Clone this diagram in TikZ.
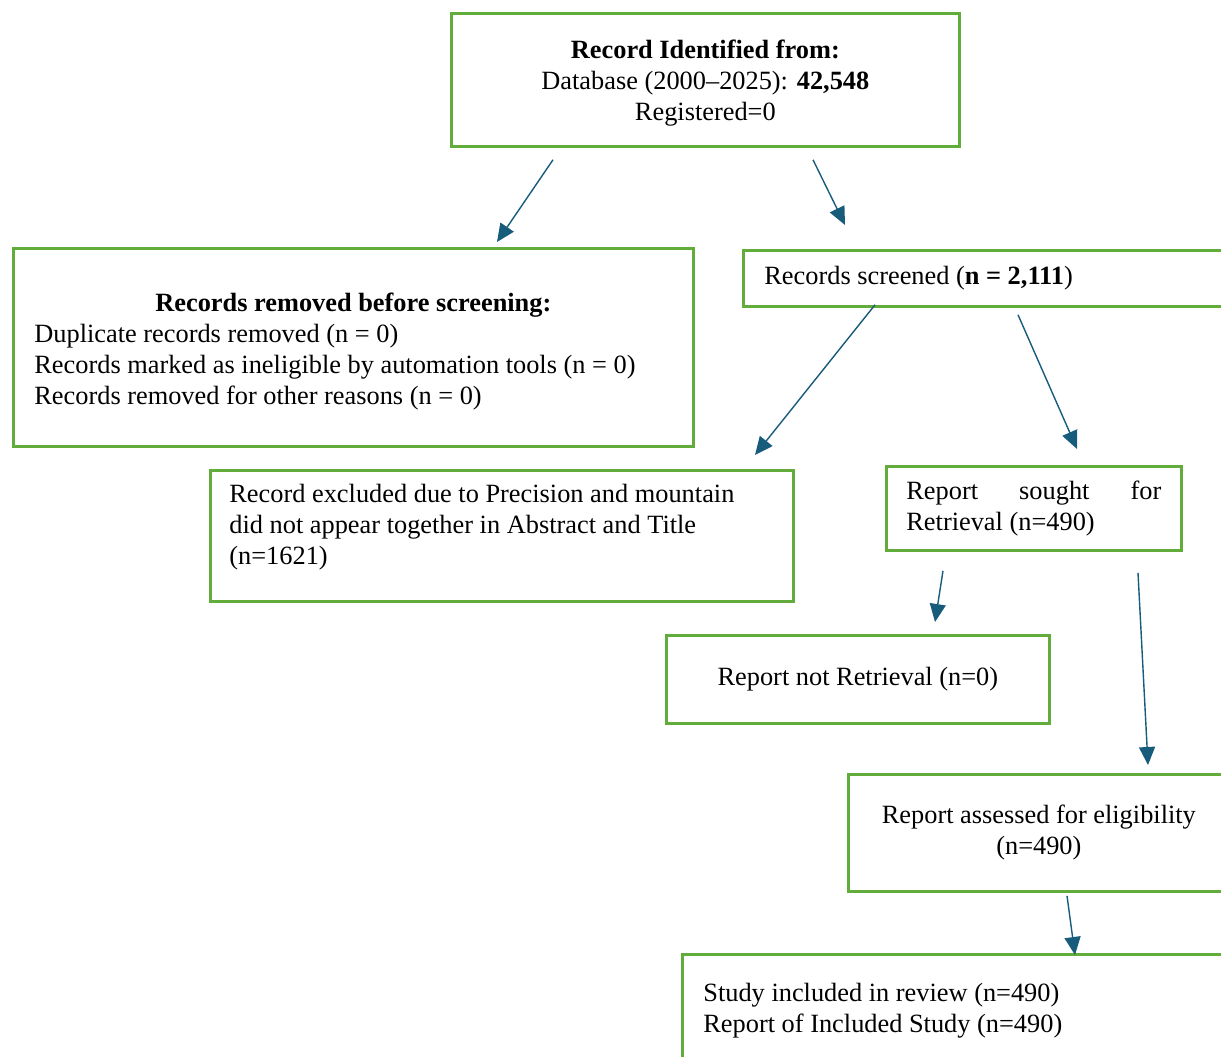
\documentclass[tikz,border=0pt]{standalone}
\usepackage{fontspec}
\setmainfont{Liberation Serif}
\usepackage{tikz}
\usetikzlibrary{arrows.meta, positioning}
\usepackage{xcolor}
\definecolor{boxgreen}{RGB}{98,172,60}
\definecolor{arrowblue}{RGB}{24,92,124}

\begin{document}
\begin{tikzpicture}[
  x=0.02cm, y=-0.02cm,
  box/.style={rectangle, draw=boxgreen, line width=1.6pt, anchor=north west,
              inner xsep=0.42cm, inner ysep=0pt,
              font=\fontsize{15}{17.6}\selectfont},
  arrow/.style={-{Triangle[length=0.36cm, width=0.32cm]}, line width=0.8pt, arrowblue}
]
\clip (0,0) rectangle (1221,1057);

\node[box, minimum width=10.16cm, minimum height=2.66cm, align=center, text depth=0pt] (ident) at (450,12)
  {\textbf{Record Identified from:}\\
   Database (2000--2025): \textbf{42,548}\\
   Registered=0};

\node[box, minimum width=13.6cm, minimum height=3.96cm, text width=12.76cm, align=flush left, text depth=1.8cm] (removed) at (12,247)
  {\makebox[\linewidth][c]{\textbf{Records removed before screening:}}\\
   Duplicate records removed (n = 0)\\
   Records marked as ineligible by automation tools (n = 0)\\
   Records removed for other reasons (n = 0)};

\node[box, minimum width=9.96cm, minimum height=1.12cm, text width=9.12cm, align=flush left] (screened) at (742,249)
  {Records screened (\textbf{n = 2,111})};

\node[box, minimum width=11.66cm, minimum height=2.62cm, text width=10.9cm, inner xsep=0.38cm, align=flush left, text depth=1.69cm] (excluded) at (209,469)
  {Record excluded due to Precision and mountain\\
   did not appear together in Abstract and Title\\
   (n=1621)};

\node[box, minimum width=5.9cm, minimum height=1.68cm, text width=5.1cm, inner xsep=0.4cm, align=flush left] (sought) at (885,465)
  {Report\hfill sought\hfill for\\
   Retrieval (n=490)};

\node[box, minimum width=7.66cm, minimum height=1.76cm, align=center] (notret) at (665,634)
  {Report not Retrieval (n=0)};

\node[box, minimum width=7.62cm, minimum height=2.34cm, align=center] (assessed) at (847,773)
  {Report assessed for eligibility\\
   (n=490)};

\node[box, minimum width=11.18cm, minimum height=2.24cm, text width=10.34cm, align=flush left] (included) at (681,953)
  {Study included in review (n=490)\\
   Report of Included Study (n=490)};

% connectors
\draw[arrow] ([shift={(103,12)}]ident.south west) -- ([shift={(485,-5)}]removed.north west);
\draw[arrow] ([shift={(363,12)}]ident.south west) -- ([shift={(103,-24)}]screened.north west);
\draw[arrow] ([shift={(133,-3)}]screened.south west) -- ([shift={(546,-14)}]excluded.north west);
\draw[arrow] ([shift={(276,7)}]screened.south west) -- ([shift={(192,-16)}]sought.north west);
\draw[arrow] ([shift={(58,19)}]sought.south west) -- ([shift={(270,-12)}]notret.north west);
\draw[arrow] ([shift={(253,21)}]sought.south west) -- ([shift={(301,-8)}]assessed.north west);
\draw[arrow] ([shift={(220,3)}]assessed.south west) -- ([shift={(394,2)}]included.north west);

\end{tikzpicture}
\end{document}
